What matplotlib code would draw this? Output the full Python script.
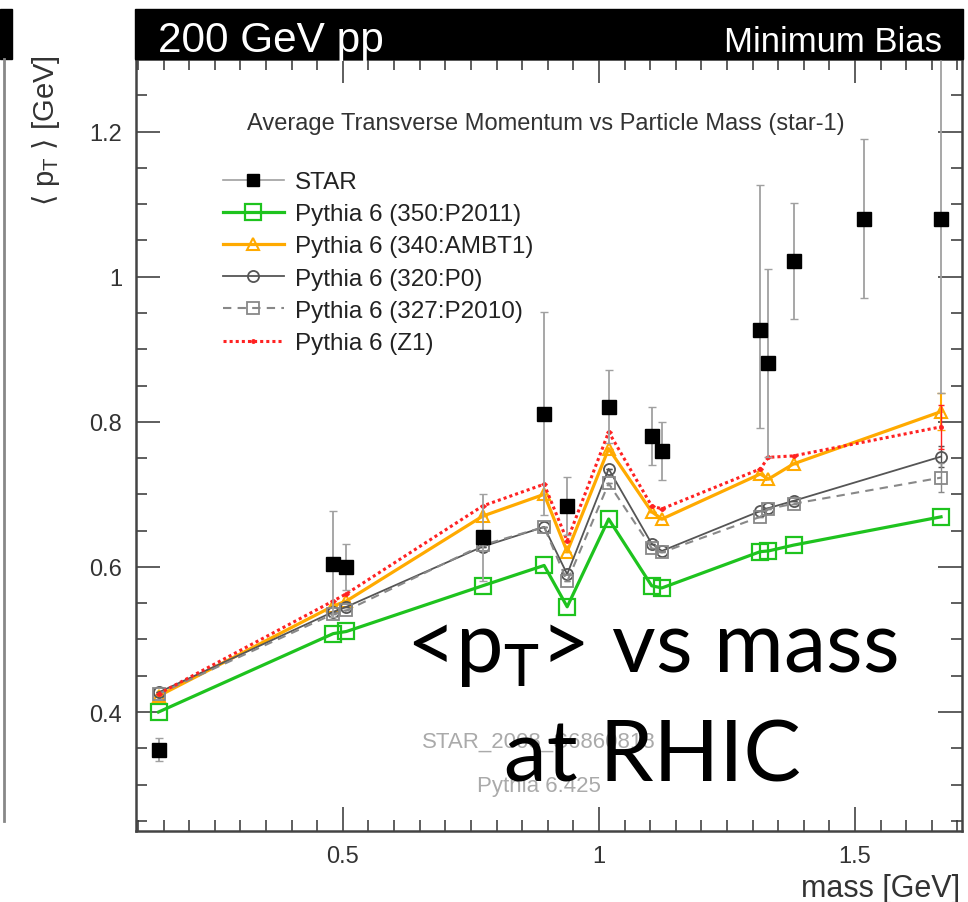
import numpy as np
import matplotlib
matplotlib.use("Agg")
import matplotlib.pyplot as plt
from matplotlib.patches import Rectangle
from matplotlib.lines import Line2D
from matplotlib.ticker import MultipleLocator, FormatStrFormatter

plt.rcParams['font.family'] = ['Liberation Sans', 'DejaVu Sans']

# particle masses [GeV] (STAR has one extra point at 1.517)
star_mass = [0.140, 0.481, 0.507, 0.773, 0.893, 0.938, 1.019, 1.103, 1.123, 1.315, 1.331, 1.380, 1.517, 1.668]
star_pt = [0.348, 0.604, 0.600, 0.641, 0.811, 0.684, 0.821, 0.781, 0.760, 0.926, 0.881, 1.022, 1.080, 1.080]
star_err_lo = [0.016, 0.073, 0.032, 0.060, 0.140, 0.040, 0.050, 0.040, 0.040, 0.134, 0.130, 0.080, 0.110, 0.240]
star_err_hi = [0.016, 0.073, 0.032, 0.060, 0.140, 0.040, 0.050, 0.040, 0.040, 0.200, 0.130, 0.080, 0.110, 0.240]

mc_mass = [0.140, 0.481, 0.507, 0.773, 0.893, 0.938, 1.019, 1.103, 1.123, 1.315, 1.331, 1.380, 1.668]
p2011 = [0.400, 0.508, 0.511, 0.574, 0.602, 0.545, 0.666, 0.574, 0.571, 0.621, 0.622, 0.630, 0.669]
ambt1 = [0.422, 0.546, 0.553, 0.670, 0.700, 0.621, 0.763, 0.676, 0.666, 0.728, 0.721, 0.742, 0.814]
p0 = [0.427, 0.538, 0.545, 0.628, 0.655, 0.590, 0.735, 0.632, 0.622, 0.677, 0.681, 0.691, 0.752]
p2010 = [0.425, 0.535, 0.540, 0.630, 0.655, 0.580, 0.715, 0.626, 0.620, 0.669, 0.680, 0.687, 0.723]
z1 = [0.425, 0.553, 0.563, 0.684, 0.714, 0.636, 0.786, 0.684, 0.680, 0.735, 0.751, 0.753, 0.793]
ambt1_err = [0, 0, 0, 0, 0, 0, 0, 0, 0, 0, 0, 0, 0.025]
z1_err = [0, 0, 0, 0, 0, 0, 0, 0, 0, 0, 0, 0, 0.030]
p0_err = [0, 0, 0, 0, 0, 0, 0, 0, 0, 0, 0, 0, 0.015]
p2010_err = [0, 0, 0, 0, 0, 0, 0, 0, 0, 0, 0, 0, 0.020]

W, H = 968, 903
fig = plt.figure(figsize=(W / 100, H / 100), dpi=100)
ax = fig.add_axes([136 / W, 1 - 832 / H, (962 - 136) / W, (832 - 60) / H])

# black header band
fig.patches.append(Rectangle((135 / W, 1 - 60 / H), (963 - 135) / W, 50 / H,
                             transform=fig.transFigure, color='black'))
fig.text(158 / W, 1 - 52 / H, "200 GeV pp", color='white', fontsize=30.5, va='baseline')
fig.text(942 / W, 1 - 52 / H, "Minimum Bias", color='white', fontsize=25, va='baseline', ha='right')

# leftover edge of neighbouring slide
fig.patches.append(Rectangle((0, 1 - 60 / H), 12 / W, 50 / H, transform=fig.transFigure, color='black'))
fig.lines.append(Line2D([4 / W, 4 / W], [1 - 822 / H, 1 - 60 / H], transform=fig.transFigure,
                        color='#888888', lw=2))

# MC lines
l_p2011, = ax.plot(mc_mass, p2011, color='#1ec31e', lw=2.3, marker='s', ms=11, mfc='none', mec='#1ec31e', mew=1.6, zorder=3)
ax.errorbar(mc_mass, ambt1, yerr=ambt1_err, fmt='none', ecolor='#ffaa00', elinewidth=1.5, capsize=3, zorder=3)
l_ambt1, = ax.plot(mc_mass, ambt1, color='#ffaa00', lw=2.3, marker='^', ms=8, mfc='none', mec='#ffaa00', mew=1.5, zorder=3)
ax.errorbar(mc_mass, p0, yerr=p0_err, fmt='none', ecolor='#555555', elinewidth=1, capsize=2, zorder=3)
l_p0, = ax.plot(mc_mass, p0, color='#555555', lw=1.3, marker='o', ms=8, mfc='none', mec='#555555', mew=1.3, zorder=3)
ax.errorbar(mc_mass, p2010, yerr=p2010_err, fmt='none', ecolor='#888888', elinewidth=1, capsize=2, zorder=3)
l_p2010, = ax.plot(mc_mass, p2010, color='#888888', lw=1.5, ls=(0, (4, 3)), marker='s', ms=8, mfc='none', mec='#888888', mew=1.3, zorder=3)
ax.errorbar(mc_mass, z1, yerr=z1_err, fmt='none', ecolor='#ff2222', elinewidth=1, capsize=2, zorder=3)
l_z1, = ax.plot(mc_mass, z1, color='#ff2222', lw=2.2, ls=(0, (1, 1)), marker='.', ms=5, zorder=3)

# STAR data
ax.errorbar(star_mass, star_pt, yerr=[star_err_lo, star_err_hi], fmt='s', color='black', ms=10,
            ecolor='#a0a0a0', elinewidth=1.3, capsize=3, capthick=1, zorder=5)
star_handle = Line2D([], [], color='#a0a0a0', lw=1.2, marker='s', mfc='black', mec='black', ms=9)

ax.set_xlim(0.096, 1.709)
ax.set_ylim(0.236, 1.30)
ax.xaxis.set_major_locator(MultipleLocator(0.5))
ax.xaxis.set_minor_locator(MultipleLocator(0.05))
ax.yaxis.set_major_locator(MultipleLocator(0.2))
ax.yaxis.set_minor_locator(MultipleLocator(0.05))
ax.xaxis.set_major_formatter(FormatStrFormatter('%g'))
ax.yaxis.set_major_formatter(FormatStrFormatter('%g'))
ax.tick_params(which='both', direction='in', top=True, right=True, colors='#333333', labelsize=17, pad=10)
ax.tick_params(which='major', length=17, width=1.1)
ax.tick_params(which='minor', length=8, width=1.1)
for s in ax.spines.values():
    s.set_linewidth(1.8)
    s.set_color('#444444')

fig.text(546 / W, 1 - 124 / H, "Average Transverse Momentum vs Particle Mass (star-1)",
         ha='center', va='center', fontsize=17, color='#333333')

leg = ax.legend([star_handle, l_p2011, l_ambt1, l_p0, l_p2010, l_z1],
                ["STAR", "Pythia 6 (350:P2011)", "Pythia 6 (340:AMBT1)", "Pythia 6 (320:P0)",
                 "Pythia 6 (327:P2010)", "Pythia 6 (Z1)"],
                loc='upper left', bbox_to_anchor=(223 / W, 1 - 172 / H), bbox_transform=fig.transFigure,
                frameon=False, fontsize=17.5, handlelength=2.5, handletextpad=0.45, labelspacing=0.42,
                borderpad=0, borderaxespad=0, numpoints=1)
for t in leg.get_texts():
    t.set_color('#222222')

# watermark
fig.text(539 / W, 1 - 742 / H, "STAR_2008_S6860818", color='#aaaaaa', fontsize=16, ha='center', va='center')
fig.text(539 / W, 1 - 787 / H, "Pythia 6.425", color='#aaaaaa', fontsize=16, ha='center', va='center')

fig.text(46 / W, 1 - 55 / H, r"$\langle\;\mathregular{p}_{\mathregular{T}}\;\rangle$ [GeV]",
         rotation=90, ha='center', va='top', fontsize=21, color='#333333')
fig.text(960 / W, 1 - 889 / H, "mass [GeV]", ha='right', va='center', fontsize=22, color='#333333')

# big slide annotation
fig.text(652 / W, 1 - 672 / H, r"<$\mathregular{p}_{\mathregular{T}}$> vs mass", family='Lato',
         fontsize=61, ha='center', va='baseline', zorder=10)
fig.text(652 / W, 1 - 782 / H, "at RHIC", family='Lato', fontsize=62, ha='center', va='baseline', zorder=10)

plt.savefig("out.png", dpi=100)
